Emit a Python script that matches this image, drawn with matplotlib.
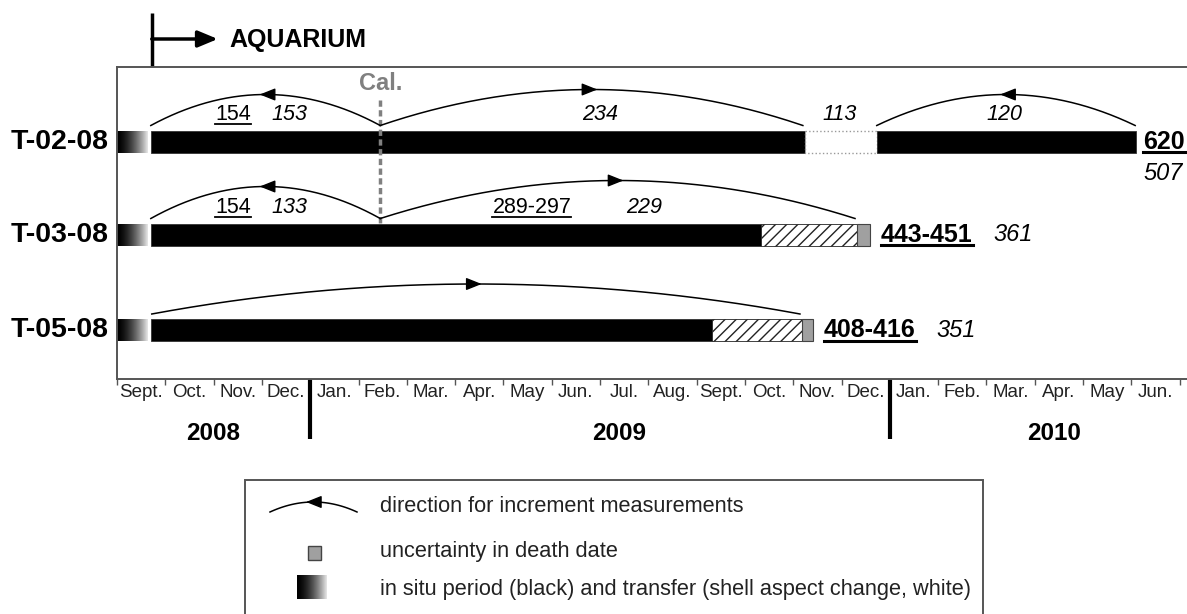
import numpy as np
import matplotlib
matplotlib.use('Agg')
import matplotlib.pyplot as plt
from matplotlib.patches import Rectangle
from matplotlib.lines import Line2D

plt.rcParams['font.family'] = ['Liberation Sans', 'DejaVu Sans']

# ---------------- data ----------------
months = ['Sept.', 'Oct.', 'Nov.', 'Dec.', 'Jan.', 'Feb.', 'Mar.', 'Apr.', 'May', 'Jun.',
          'Jul.', 'Aug.', 'Sept.', 'Oct.', 'Nov.', 'Dec.', 'Jan.', 'Feb.', 'Mar.', 'Apr.',
          'May', 'Jun.']
years = ['2008', '2009', '2010']
year_breaks = [4, 16]             # month index where a new year starts
year_label_pos = [2.0, 10.4, 19.4]
specimens = ['T-02-08', 'T-03-08', 'T-05-08']
aquarium_start = 0.72             # months after 1 Sept 2008
calibration = 5.45
transfer_end = 0.64

# (start, end, kind) in months after 1 Sept 2008
seg_t02 = [(0.70, 14.24, 'insitu'), (14.24, 15.73, 'white'), (15.73, 21.10, 'insitu')]
seg_t03 = [(0.70, 13.33, 'insitu'), (13.33, 15.32, 'hatch'), (15.32, 15.59, 'death')]
seg_t05 = [(0.70, 12.32, 'insitu'), (12.32, 14.18, 'hatch'), (14.18, 14.41, 'death')]
segments = [seg_t02, seg_t03, seg_t05]

# arcs: (start, end, direction)
arcs_t02 = [(0.70, 5.45, 'left'), (5.45, 14.20, 'right'), (15.73, 21.08, 'left')]
arcs_t03 = [(0.70, 5.45, 'left'), (5.45, 15.28, 'right')]
arcs_t05 = [(0.72, 14.14, 'right')]
arcs = [arcs_t02, arcs_t03, arcs_t05]
arc_heights = [[31, 36, 31], [32, 38], [30]]

# increment labels: (x month, text, underlined)
labels_t02 = [(2.40, '154', True), (3.58, '153', False), (10.0, '234', False),
              (14.97, '113', False), (18.38, '120', False)]
labels_t03 = [(2.40, '154', True), (3.58, '133', False), (8.59, '289-297', True),
              (10.91, '229', False)]
labels_t05 = []
inc_labels = [labels_t02, labels_t03, labels_t05]

totals_measured = ['620', '443-451', '408-416']
totals_counted = ['507', '361', '351']

leg_texts = ['direction for increment measurements', 'uncertainty in death date',
             'in situ period (black) and transfer (shell aspect change, white)']

# ---------------- layout ----------------
W, H = 1187, 614
PX_PER_MONTH = 48.3
fig = plt.figure(figsize=(W / 100, H / 100), dpi=100)
ax = fig.add_axes([117 / W, 1 - 379 / H, (W - 117) / W, (379 - 67) / H])
xmax = (W - 117) / PX_PER_MONTH
row_y = [141.5, 234.5, 330.0]
bh = 22
px = 1 / PX_PER_MONTH

grad = (np.linspace(0, 1, 64) ** 1.6 * 0.9).reshape(1, -1)

underlined = []

for i, sp in enumerate(specimens):
    y = row_y[i]
    ax.imshow(grad, extent=(0, transfer_end, y + bh / 2, y - bh / 2), aspect='auto',
              cmap='gray', vmin=0, vmax=1, interpolation='bilinear', zorder=2)
    for s, e, kind in segments[i]:
        if kind == 'insitu':
            r = Rectangle((s, y - bh / 2), e - s, bh, facecolor='black', edgecolor='#333',
                          lw=0.6, zorder=3)
        elif kind == 'white':
            r = Rectangle((s, y - bh / 2), e - s, bh, facecolor='white', edgecolor='#999',
                          lw=1.0, ls=':', zorder=3)
        elif kind == 'hatch':
            r = Rectangle((s, y - bh / 2), e - s, bh, facecolor='white', edgecolor='#222',
                          lw=0.6, hatch='///', zorder=3)
        else:
            r = Rectangle((s, y - bh / 2), e - s, bh, facecolor='#a0a0a0', edgecolor='#444',
                          lw=0.8, zorder=4)
        ax.add_patch(r)
    # arcs
    for (s, e, d), h in zip(arcs[i], arc_heights[i]):
        xs = np.linspace(s, e, 200)
        m, hw = (s + e) / 2, (e - s) / 2
        yend = y - 16
        ys = yend - h * (1 - ((xs - m) / hw) ** 2)
        ax.plot(xs, ys, color='black', lw=1.1, zorder=5)
        apex = yend - h
        dd = 0.12
        if d == 'left':
            xy, xyt = (m - dd, apex), (m + dd, apex)
        else:
            xy, xyt = (m + dd, apex), (m - dd, apex)
        ax.annotate('', xy=xy, xytext=xyt,
                    arrowprops=dict(arrowstyle='-|>,head_length=0.95,head_width=0.38',
                                    color='black', lw=1, shrinkA=0, shrinkB=0,
                                    mutation_scale=10), zorder=6)
    for xm, txt, ul in inc_labels[i]:
        t = ax.text(xm, y - 27, txt, ha='center', va='center', fontsize=15.5,
                    style='normal' if ul else 'italic', zorder=6)
        if ul:
            underlined.append((t, 1.3))
    # row label
    ax.text(-8 * px, y, sp, ha='right', va='center', fontsize=20.5, fontweight='bold',
            clip_on=False)

# totals
end_t02 = segments[0][-1][1]
t = ax.text(end_t02 + 7 * px, row_y[0], totals_measured[0], ha='left', va='center',
            fontsize=18, fontweight='bold', clip_on=False)
underlined.append((t, 2.2))
ax.text(end_t02 + 7 * px, 173, totals_counted[0], ha='left', va='center', fontsize=17,
        style='italic', clip_on=False)
for i in (1, 2):
    end = segments[i][-1][1]
    t = ax.text(end + 11 * px, row_y[i], totals_measured[i], ha='left', va='center',
                fontsize=18, fontweight='bold')
    underlined.append((t, 2.2))
    ax.text(end + 123 * px, row_y[i], totals_counted[i], ha='left', va='center',
            fontsize=17, style='italic')

# calibration line
ax.plot([calibration, calibration], [100, 223], color='#808080', lw=2.5,
        dashes=(1.8, 1.0), zorder=4)
ax.text(calibration, 83, 'Cal.', ha='center', va='center', fontsize=17,
        fontweight='bold', color='#808080')

# aquarium marker
ax.plot([aquarium_start, aquarium_start], [13, 67], color='black', lw=2.5,
        clip_on=False, solid_capstyle='butt')
ax.annotate('', xy=(aquarium_start + 66 * px, 39), xytext=(aquarium_start, 39),
            arrowprops=dict(arrowstyle='-|>,head_length=1.2,head_width=0.5', color='black',
                            lw=2.5, shrinkA=0, shrinkB=0, mutation_scale=10),
            annotation_clip=False)
ax.text(aquarium_start + 78 * px, 40, 'AQUARIUM', ha='left', va='center', fontsize=18,
        fontweight='bold', clip_on=False)

# axes / ticks
ax.set_xlim(0, xmax)
ax.set_ylim(379, 67)
ax.set_xticks(np.arange(len(months) + 1))
ax.set_xticklabels([])
ax.set_xticks(np.arange(len(months)) + 0.5, minor=True)
ax.set_xticklabels(months, minor=True, fontsize=13.5, color='#222')
ax.tick_params(axis='x', which='major', length=4, width=1, color='#555', direction='out')
ax.tick_params(axis='x', which='minor', length=0, pad=3.5)
ax.set_yticks([])
for s in ('left', 'top', 'bottom'):
    ax.spines[s].set_color('#555')
    ax.spines[s].set_linewidth(1.4)
ax.spines['right'].set_visible(False)

# years
for b in year_breaks:
    ax.plot([b, b], [379, 439], color='black', lw=3, clip_on=False, solid_capstyle='butt')
for xp, yr in zip(year_label_pos, years):
    ax.text(xp, 433, yr, ha='center', va='center', fontsize=17.5, fontweight='bold',
            clip_on=False)

# ---------------- legend (pixel overlay) ----------------
ov = fig.add_axes([0, 0, 1, 1], zorder=10)
ov.patch.set_alpha(0)
lx = np.linspace(270, 357, 100)
ov.plot(lx, 512 - 10 * (1 - ((lx - 313.5) / 43.5) ** 2), color='black', lw=1.1, zorder=3)
ov.annotate('', xy=(306, 502), xytext=(318, 502),
            arrowprops=dict(arrowstyle='-|>,head_length=0.95,head_width=0.38', color='black',
                            lw=1, shrinkA=0, shrinkB=0, mutation_scale=10), zorder=3)
ov.add_patch(Rectangle((308, 546), 13, 14, facecolor='#a0a0a0', edgecolor='#444', lw=1,
                       zorder=3))
ov.imshow(grad, extent=(297, 327, 599, 575), aspect='auto', cmap='gray', vmin=0, vmax=1,
          interpolation='bilinear', zorder=3)
ov.set_xlim(0, W)
ov.set_ylim(H, 0)
ov.axis('off')
leg_artists = []
for yy, tx in zip([506, 551, 589], leg_texts):
    leg_artists.append(ov.text(380, yy, tx, ha='left', va='center', fontsize=15.7,
                               color='#222', zorder=3))

# underlines and legend frame (need rendered extents)
fig.canvas.draw()
rend = fig.canvas.get_renderer()
inv = fig.transFigure.inverted()
for t, lw in underlined:
    bb = t.get_window_extent(rend)
    (x0, y0), (x1, _) = inv.transform([(bb.x0, bb.y0 + 1.5), (bb.x1, bb.y0)])
    fig.add_artist(Line2D([x0, x1], [y0, y0], transform=fig.transFigure, color='black',
                          lw=lw))
right = max(a.get_window_extent(rend).x1 for a in leg_artists) + 12
ov.add_patch(Rectangle((245, 480), right - 245, 200, facecolor='white', edgecolor='#555',
                       lw=1.4, clip_on=False, zorder=1))

fig.savefig('out.png', dpi=100)
